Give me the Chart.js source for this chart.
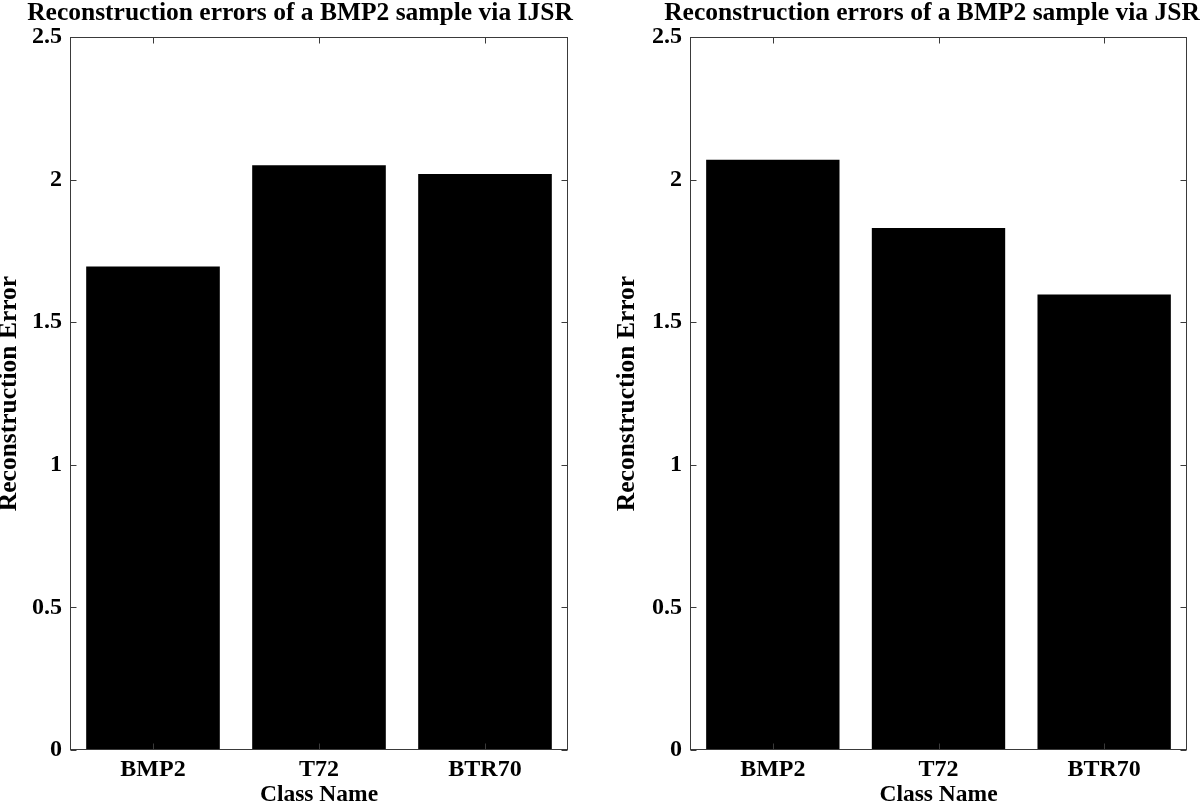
<!DOCTYPE html>
<html>
<head>
<meta charset="utf-8">
<script src="https://cdn.jsdelivr.net/npm/chart.js@4.4.1/dist/chart.umd.min.js"></script>
<style>
  html, body { margin: 0; padding: 0; background: #fff; overflow: hidden; }
  #left { position: absolute; left: 0; top: 0; }
  #right { position: absolute; left: 600px; top: 0; }
</style>
</head>
<body>
<canvas id="left" width="600" height="805"></canvas>
<canvas id="right" width="664" height="805"></canvas>
<script>
const classNames = ['BMP2', 'T72', 'BTR70'];
const ijsrErrors = [1.695, 2.05, 2.02];
const jsrErrors = [2.07, 1.83, 1.597];
const yTicks = [0, 0.5, 1, 1.5, 2, 2.5];

const FONT = 'Liberation Serif';

// matlab style box with inward tick marks
const boxTicks = {
  id: 'boxTicks',
  afterDatasetsDraw(chart) {
    const { ctx, chartArea: a, scales } = chart;
    const L = Math.round(a.left) + 0.5, R = Math.round(a.right) - 0.5;
    const T = Math.round(a.top) + 0.5, B = Math.round(a.bottom) - 0.5;
    ctx.save();
    ctx.strokeStyle = '#3a3a3a';
    ctx.lineWidth = 1;
    ctx.beginPath();
    scales.y.ticks.forEach(t => {
      const py = Math.round(scales.y.getPixelForValue(t.value)) + 0.5;
      ctx.moveTo(L, py); ctx.lineTo(L + 6, py);
      ctx.moveTo(R, py); ctx.lineTo(R - 6, py);
    });
    scales.x.ticks.forEach((t, i) => {
      const px = Math.round(scales.x.getPixelForTick(i)) + 0.5;
      ctx.moveTo(px, T); ctx.lineTo(px, T + 6);
      ctx.moveTo(px, B); ctx.lineTo(px, B - 6);
    });
    ctx.stroke();
    ctx.strokeRect(L, T, R - L, B - T);
    ctx.restore();
  }
};

function makeChart(id, title, values, yWidth, rightGap, yTitlePad) {
  return new Chart(document.getElementById(id), {
    type: 'bar',
    data: {
      labels: classNames,
      datasets: [{
        data: values,
        backgroundColor: '#000',
        borderWidth: 0,
        barPercentage: 0.805,
        categoryPercentage: 1
      }]
    },
    options: {
      responsive: false,
      animation: false,
      devicePixelRatio: 1,
      layout: { padding: 0 },
      plugins: {
        legend: { display: false },
        tooltip: { enabled: false },
        title: {
          display: true,
          text: title,
          color: '#000',
          font: { family: FONT, size: 25.5, weight: 'bold', lineHeight: 1 },
          padding: { top: 1, bottom: 10.5 }
        }
      },
      scales: {
        x: {
          grid: { display: false, drawTicks: false },
          border: { display: false },
          ticks: { color: '#000', padding: 8, font: { family: FONT, size: 24, weight: 'bold', lineHeight: 1 } },
          title: {
            display: true, text: 'Class Name', color: '#000',
            font: { family: FONT, size: 23.5, weight: 'bold', lineHeight: 1 }, padding: { top: 0, bottom: -2 }
          },
          afterFit: s => { s.height = 55; }
        },
        y: {
          min: 0, max: 2.5,
          grid: { display: false, drawTicks: false },
          border: { display: false },
          afterBuildTicks: s => { s.ticks = yTicks.map(v => ({ value: v })); },
          ticks: {
            color: '#000', padding: 8,
            font: { family: FONT, size: 24, weight: 'bold', lineHeight: 1 },
            callback: v => String(v)
          },
          title: {
            display: true, text: 'Reconstruction Error', color: '#000',
            font: { family: FONT, size: 25.5, weight: 'bold', lineHeight: 1 },
            padding: { top: yTitlePad, bottom: 0 }
          },
          afterFit: s => { s.width = yWidth; }
        },
        y2: {
          position: 'right',
          grid: { display: false, drawTicks: false },
          border: { display: false },
          ticks: { display: false },
          afterFit: s => { s.width = rightGap; }
        }
      }
    },
    plugins: [boxTicks]
  });
}

makeChart('left', 'Reconstruction errors of a BMP2 sample via IJSR', ijsrErrors, 70, 32, -3);
makeChart('right', 'Reconstruction errors of a BMP2 sample via JSR', jsrErrors, 90, 77, 15);
</script>
</body>
</html>
